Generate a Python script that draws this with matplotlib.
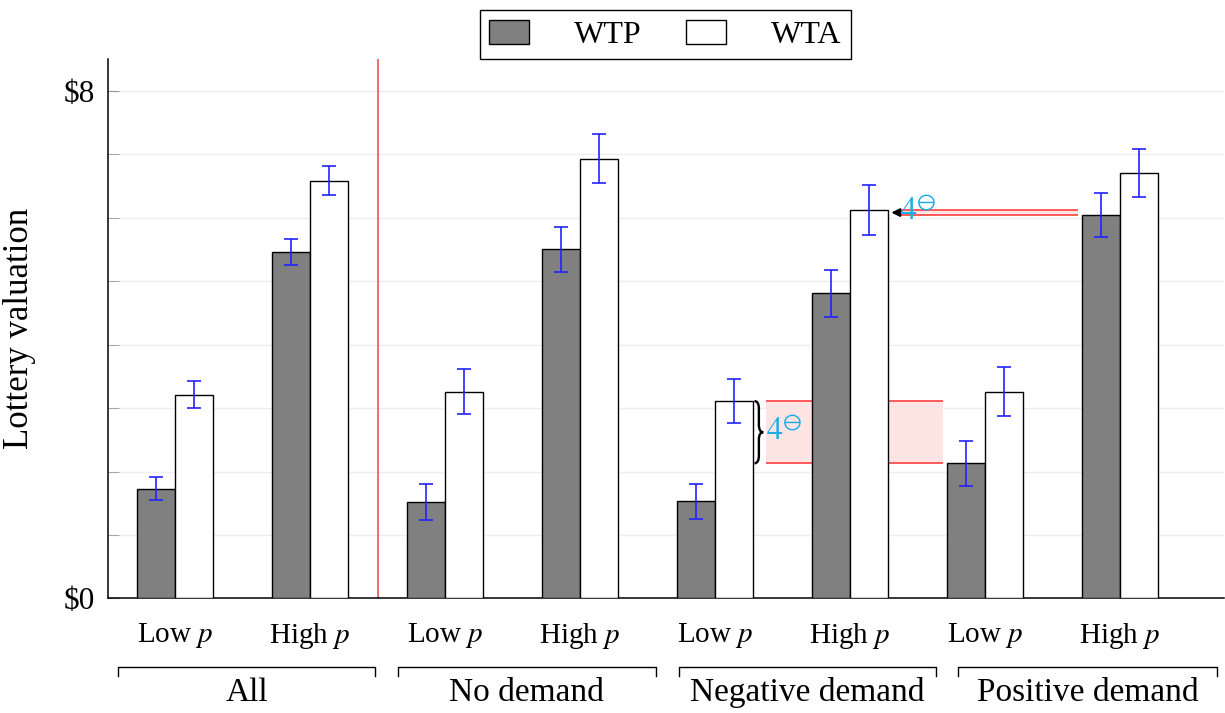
import numpy as np
import matplotlib
matplotlib.use("Agg")
import matplotlib.pyplot as plt
from matplotlib.path import Path
from matplotlib.patches import PathPatch, Patch

plt.rcParams['font.family'] = ['Liberation Serif', 'DejaVu Serif']
plt.rcParams['mathtext.fontset'] = 'stix'

# --- data ---
tick_labels = ['Low $p$', 'High $p$'] * 4
groups = ['All', 'No demand', 'Negative demand', 'Positive demand']
wtp = [1.73, 5.46, 1.52, 5.50, 1.53, 4.81, 2.13, 6.04]
wta = [3.21, 6.58, 3.26, 6.93, 3.11, 6.12, 3.26, 6.70]
wtp_err = [0.18, 0.21, 0.29, 0.35, 0.27, 0.37, 0.35, 0.35]
wta_err = [0.21, 0.23, 0.36, 0.39, 0.35, 0.40, 0.38, 0.38]
gap_label = r'$4^{\ominus}$'

cyan = '#1aaee8'
red = '#ff4040'
pink = '#ffe4e4'
bw = 0.28


def brace(ax, x0, y0, y1, w=0.065, q=0.12):
    xm = x0 + w / 2
    ym = (y0 + y1) / 2
    verts = [(x0, y1), (xm, y1), (xm, y1 - q),
             (xm, ym + q), (xm, ym), (x0 + w, ym),
             (xm, ym), (xm, ym - q),
             (xm, y0 + q), (xm, y0), (x0, y0)]
    codes = [Path.MOVETO, Path.CURVE3, Path.CURVE3,
             Path.LINETO, Path.CURVE3, Path.CURVE3,
             Path.CURVE3, Path.CURVE3,
             Path.LINETO, Path.CURVE3, Path.CURVE3]
    ax.add_patch(PathPatch(Path(verts, codes), fill=False, lw=1.7,
                           ec='black', zorder=5, clip_on=False))


fig = plt.figure(figsize=(12.25, 7.13), dpi=100)
ax = fig.add_axes([0.0878, 0.1606, 0.9114, 0.7567])

x = np.arange(len(wtp))
ax.bar(x - bw / 2, wtp, bw, color='#808080', edgecolor='black', lw=1, zorder=3)
ax.bar(x + bw / 2, wta, bw, color='white', edgecolor='black', lw=1, zorder=3)
ax.errorbar(x - bw / 2, wtp, yerr=wtp_err, fmt='none', ecolor='#2222ff',
            elinewidth=1.2, capsize=5, capthick=1.2, zorder=4)
ax.errorbar(x + bw / 2, wta, yerr=wta_err, fmt='none', ecolor='#2222ff',
            elinewidth=1.2, capsize=5, capthick=1.2, zorder=4)

# separator between "All" and the subgroups
ax.axvline(1.5, color='#f06060', lw=1.3, zorder=2)

# lower gap: negative demand low WTA vs positive demand low WTP
lo_a, lo_b = wta[4], wtp[6]
bx0, bx1 = 4 + bw + 0.095, 6 - bw - 0.03
ax.fill_between([bx0, bx1], lo_b, lo_a, color=pink, lw=0, zorder=1.5)
ax.hlines([lo_a, lo_b], bx0, bx1, color=red, lw=1.2, zorder=1.6)
brace(ax, 4 + bw + 0.012, lo_b, lo_a)
ax.text(4 + bw + 0.1, (lo_a + lo_b) / 2, gap_label, color=cyan,
        fontsize=23, ha='left', va='center', zorder=6)

# upper gap: negative demand high WTA vs positive demand high WTP
hi_a, hi_b = wta[5], wtp[7]
ux0, ux1 = 5 + bw + 0.09, 7 - bw - 0.03
ax.fill_between([ux0, ux1], hi_b, hi_a, color=pink, lw=0, zorder=1.5)
ax.hlines([hi_a, hi_b], ux0, ux1, color=red, lw=1.2, zorder=1.6)
ym = (hi_a + hi_b) / 2
ax.annotate('', xy=(5 + bw + 0.005, ym), xytext=(5 + bw + 0.09, ym),
            arrowprops=dict(arrowstyle='-|>', color='black', lw=1.5,
                            mutation_scale=12), zorder=6)
ax.text(5 + bw + 0.09, ym, gap_label, color=cyan, fontsize=23,
        ha='left', va='center', zorder=6)

ax.set_xlim(-0.5, 7.77)
ax.set_ylim(0, 8.5)
ax.set_xticks(x)
ax.set_xticklabels(tick_labels, fontsize=21)
ax.tick_params(axis='x', length=0, pad=16)
ax.set_yticks([0, 8])
ax.set_yticklabels(['\\$0', '\\$8'], fontsize=22.5)
ax.set_yticks(range(1, 8), minor=True)
ax.tick_params(axis='y', which='both', direction='in', length=8,
               color='#999999', pad=9)
ax.grid(axis='y', which='both', color='#eeeeee', lw=1, zorder=0)
ax.set_axisbelow(True)
for s in ['top', 'right']:
    ax.spines[s].set_visible(False)
ax.spines['left'].set_linewidth(1.1)
ax.spines['bottom'].set_linewidth(1.1)
ax.set_ylabel('Lottery valuation', fontsize=25)
ax.yaxis.set_label_coords(-0.0645, 0.5)

# group brackets under the tick labels
spans = [(-0.42, 1.48), (1.65, 3.56), (3.73, 5.64), (5.80, 7.72)]
tr = ax.get_xaxis_transform()
for (a, b), name in zip(spans, groups):
    ax.plot([a, a, b, b], [-0.144, -0.1264, -0.1264, -0.144], color='black',
            lw=1, transform=tr, clip_on=False)
    ax.text((a + b) / 2, -0.174, name, transform=tr, ha='center', va='center',
            fontsize=24)

handles = [Patch(facecolor='#808080', edgecolor='black', lw=1),
           Patch(facecolor='white', edgecolor='black', lw=1)]
leg = fig.legend(handles, ['WTP', 'WTA'], loc='center', ncol=2,
                 bbox_to_anchor=(0.5433, 0.9513), fontsize=23, frameon=True,
                 fancybox=False, edgecolor='black', framealpha=1,
                 handlelength=1.25, handleheight=0.8, handletextpad=1.4,
                 columnspacing=1.4, borderpad=0.3)
leg.get_frame().set_linewidth(1)

fig.savefig('out.png', dpi=100)
